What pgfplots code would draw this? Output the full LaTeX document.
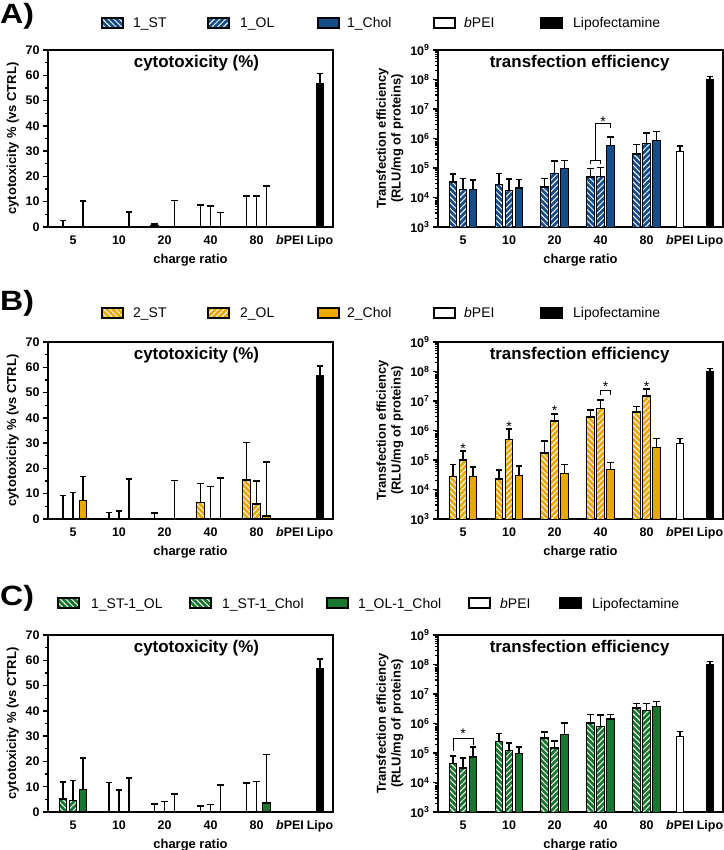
\documentclass[border=0pt]{standalone}
\usepackage{fontspec}
\setmainfont{Liberation Sans}
\usepackage{pgfplots}
\pgfplotsset{compat=1.18}
\usetikzlibrary{patterns.meta}

\definecolor{cblue}{RGB}{22,76,136}
\definecolor{corange}{RGB}{232,168,0}
\definecolor{cgreen}{RGB}{24,118,46}

\tikzset{
  stpat/.style={draw=black, preaction={fill=#1}, pattern={Lines[angle=-45,distance=4bp,line width=0.95bp]}, pattern color=white},
  olpat/.style={draw=black, preaction={fill=#1}, pattern={Lines[angle=45,distance=4bp,line width=0.95bp]}, pattern color=white},
  solidpat/.style={draw=black, fill=#1},
  legbox/.style={line width=1.5bp},
  legtext/.style={anchor=base west, inner sep=0pt, font=\fontsize{14}{16}\selectfont},
  sigstar/.style={anchor=base, inner sep=0pt, yshift=-8bp, font=\fontsize{14}{16}\selectfont},
  ttl/.style={anchor=north, inner sep=0pt, yshift=-5bp, font=\bfseries\fontsize{17}{20}\selectfont},
  sig/.style={line width=1bp, black},
  plab/.style={anchor=west, inner sep=0pt, xscale=1.15, font=\bfseries\fontsize{28}{32}\selectfont},
}

\pgfplotsset{
  myCommon/.style={
    scale only axis, width=285bp, height=177bp,
    xmin=0, xmax=285,
    axis line style={line width=2bp},
    xtick={25,71,116.5,162.5,208.5,242,272},
    xticklabels={5,10,20,40,80,\textit{b}PEI,Lipo},
    x tick style={draw=none},
    ytick pos=left,
    tick align=outside,
    major tick length=5bp, minor tick length=3bp,
    major tick style={line width=1.5bp, black},
    minor tick style={line width=1.2bp, black},
    tick label style={font=\bfseries\fontsize{12.5}{14}\selectfont},
    label style={font=\bfseries\fontsize{13}{15}\selectfont},
    xlabel={charge ratio},
    error bars/y dir=plus, error bars/y explicit,
    error bars/error bar style={line width=1.3bp, black},
    error bars/error mark options={rotate=90, line width=1.6bp, mark size=3.2bp, black},
  },
  myCyto/.style={myCommon, ymin=0, ymax=70, ytick={0,10,20,30,40,50,60,70},
    yticklabels={0,10,20,30,40,50,60,70}, minor y tick num=1,
    ylabel={cytotoxicity \% (vs CTRL)}},
  myTran/.style={myCommon, ymin=1e3, ymax=1e9,
    ytick={1e3,1e4,1e5,1e6,1e7,1e8,1e9},
    yticklabels={10\textsuperscript{3},10\textsuperscript{4},10\textsuperscript{5},10\textsuperscript{6},10\textsuperscript{7},10\textsuperscript{8},10\textsuperscript{9}},
    ylabel={Transfection efficiency\\(RLU/mg of proteins)},
    ylabel style={align=center}},
  myBar/.style={ybar, bar width=7.5, bar shift=0pt, line width=1.4bp},
}

\begin{document}
\begin{tikzpicture}
\useasboundingbox (0bp,0bp) rectangle (724bp,850bp);

\begin{scope}[x=1bp,y=1bp]
% Row A legend
\node[plab] at (0,834) {A)};
\draw[legbox, stpat=cblue] (102,822) rectangle ++(21,10); \node[legtext] at (133,822) {1\_ST};
\draw[legbox, olpat=cblue] (208,822) rectangle ++(21,10); \node[legtext] at (240,822) {1\_OL};
\draw[legbox, solidpat=cblue] (318,822) rectangle ++(21,10); \node[legtext] at (347,822) {1\_Chol};
\draw[legbox, solidpat=white] (434,822) rectangle ++(21,10); \node[legtext] at (464,822) {\textit{b}PEI};
\draw[legbox, solidpat=black] (541,822) rectangle ++(21,10); \node[legtext] at (573,822) {Lipofectamine};
% Row B legend
\node[plab] at (0,547) {B)};
\draw[legbox, stpat=corange] (102,532) rectangle ++(21,10); \node[legtext] at (133,532) {2\_ST};
\draw[legbox, olpat=corange] (208,532) rectangle ++(21,10); \node[legtext] at (240,532) {2\_OL};
\draw[legbox, solidpat=corange] (318,532) rectangle ++(21,10); \node[legtext] at (347,532) {2\_Chol};
\draw[legbox, solidpat=white] (434,532) rectangle ++(21,10); \node[legtext] at (464,532) {\textit{b}PEI};
\draw[legbox, solidpat=black] (541,532) rectangle ++(21,10); \node[legtext] at (573,532) {Lipofectamine};
% Row C legend
\node[plab] at (0,252) {C)};
\draw[legbox, stpat=cgreen] (58,242) rectangle ++(21,10); \node[legtext] at (91,242) {1\_ST-1\_OL};
\draw[legbox, stpat=cgreen] (190,242) rectangle ++(21,10); \node[legtext] at (222,242) {1\_ST-1\_Chol};
\draw[legbox, solidpat=cgreen] (327,242) rectangle ++(21,10); \node[legtext] at (358,242) {1\_OL-1\_Chol};
\draw[legbox, solidpat=white] (469,242) rectangle ++(21,10); \node[legtext] at (500,242) {\textit{b}PEI};
\draw[legbox, solidpat=black] (560,242) rectangle ++(21,10); \node[legtext] at (592,242) {Lipofectamine};
\end{scope}

% ---------------- Row A ----------------
\begin{axis}[myCyto, at={(48bp,623bp)}, anchor=south west]
\addplot[myBar, stpat=cblue] coordinates {(15,0) +- (0,2.6) (106.5,0.7) +- (0,0.4) (152.5,0) +- (0,8.6) (198.5,0) +- (0,12.2)};
\addplot[myBar, olpat=cblue] coordinates {(162.5,0) +- (0,8.2) (208.5,0) +- (0,12.2)};
\addplot[myBar, solidpat=cblue] coordinates {(35,0) +- (0,10.2) (81,0) +- (0,5.9) (126.5,0) +- (0,10.5) (172.5,0) +- (0,5.7) (218.5,0) +- (0,16.1)};
\addplot[myBar, solidpat=black] coordinates {(272,56.5) +- (0,4.2)};
\node[ttl] at (rel axis cs:0.521,1) {cytotoxicity (\%)};
\end{axis}

\begin{semilogyaxis}[myTran, at={(438bp,623bp)}, anchor=south west]
\addplot[myBar, stpat=cblue] coordinates {(15,3.4e4) +- (0,2.8e4) (61,2.8e4) +- (0,3.7e4) (106.5,2.3e4) +- (0,2.1e4) (152.5,4.9e4) +- (0,4.7e4) (198.5,3e5) +- (0,3.3e5)};
\addplot[myBar, olpat=cblue] coordinates {(25,1.9e4) +- (0,2.5e4) (71,1.7e4) +- (0,2.6e4) (116.5,6.5e4) +- (0,1.05e5) (162.5,5.1e4) +- (0,5.2e4) (208.5,6.8e5) +- (0,8.2e5)};
\addplot[myBar, solidpat=cblue] coordinates {(35,1.9e4) +- (0,2.0e4) (81,2.1e4) +- (0,2.0e4) (126.5,9.6e4) +- (0,8.4e4) (172.5,5.9e5) +- (0,5.6e5) (218.5,8.7e5) +- (0,8.3e5)};
\addplot[myBar, solidpat=white] coordinates {(242,3.7e5) +- (0,1.8e5)};
\addplot[myBar, solidpat=black] coordinates {(272,1e8) +- (0,2.5e7)};
\draw[sig] (axis cs:152.5,1.4e5) -- (axis cs:152.5,1.8e5) -- (axis cs:162.5,1.8e5) -- (axis cs:162.5,1.4e5);
\draw[sig] (axis cs:157.5,1.8e5) -- (axis cs:157.5,3.2e6) -- (axis cs:172.5,3.2e6) -- (axis cs:172.5,2.3e6);
\node[sigstar] at (axis cs:165,4.8e6) {*};
\node[ttl] at (rel axis cs:0.497,1) {transfection efficiency};
\end{semilogyaxis}

% ---------------- Row B ----------------
\begin{axis}[myCyto, at={(48bp,331bp)}, anchor=south west]
\addplot[myBar, stpat=corange] coordinates {(15,0) +- (0,9.3) (61,0) +- (0,2.6) (106.5,0) +- (0,2.3) (152.5,6.5) +- (0,7.5) (198.5,15.4) +- (0,14.8)};
\addplot[myBar, olpat=corange] coordinates {(25,0) +- (0,10.4) (71,0) +- (0,3.1) (162.5,0) +- (0,12.9) (208.5,5.9) +- (0,9.1)};
\addplot[myBar, solidpat=corange] coordinates {(35,7.2) +- (0,9.6) (81,0) +- (0,15.8) (126.5,0) +- (0,15.3) (172.5,0) +- (0,16.3) (218.5,1.2) +- (0,21.4)};
\addplot[myBar, solidpat=black] coordinates {(272,56.5) +- (0,4.0)};
\node[ttl] at (rel axis cs:0.521,1) {cytotoxicity (\%)};
\end{axis}

\begin{semilogyaxis}[myTran, at={(438bp,331bp)}, anchor=south west]
\addplot[myBar, stpat=corange] coordinates {(15,2.7e4) +- (0,4.3e4) (61,2.3e4) +- (0,2.2e4) (106.5,1.7e5) +- (0,2.8e5) (152.5,2.9e6) +- (0,2.1e6) (198.5,4.3e6) +- (0,2.3e6)};
\addplot[myBar, olpat=corange] coordinates {(25,1e5) +- (0,1e5) (71,5e5) +- (0,6e5) (116.5,2.1e6) +- (0,1.5e6) (162.5,5.6e6) +- (0,5.1e6) (208.5,1.5e7) +- (0,1.1e7)};
\addplot[myBar, solidpat=corange] coordinates {(35,2.7e4) +- (0,3.1e4) (81,3e4) +- (0,3.3e4) (126.5,3.5e4) +- (0,3.5e4) (172.5,4.8e4) +- (0,3.3e4) (218.5,2.6e5) +- (0,2.7e5)};
\addplot[myBar, solidpat=white] coordinates {(242,3.6e5) +- (0,1.7e5)};
\addplot[myBar, solidpat=black] coordinates {(272,1e8) +- (0,2.5e7)};
\node[sigstar] at (axis cs:25,3.2e5) {*};
\node[sigstar] at (axis cs:71,1.7e6) {*};
\node[sigstar] at (axis cs:116.5,6e6) {*};
\node[sigstar] at (axis cs:208.5,4e7) {*};
\draw[sig] (axis cs:162.5,1.6e7) -- (axis cs:162.5,2.2e7) -- (axis cs:172.5,2.2e7) -- (axis cs:172.5,1.6e7);
\node[sigstar] at (axis cs:167.5,3.8e7) {*};
\node[ttl] at (rel axis cs:0.497,1) {transfection efficiency};
\end{semilogyaxis}

% ---------------- Row C ----------------
\begin{axis}[myCyto, at={(48bp,38bp)}, anchor=south west]
\addplot[myBar, stpat=cgreen] coordinates {(15,5.2) +- (0,6.6) (61,0) +- (0,11.6) (106.5,0) +- (0,3.2) (152.5,0) +- (0,2.4) (198.5,0) +- (0,11.4)};
\addplot[myBar, olpat=cgreen] coordinates {(25,4.5) +- (0,7.9) (71,0.2) +- (0,8.6) (116.5,0) +- (0,4.2) (162.5,0) +- (0,3.0) (208.5,0) +- (0,12.0)};
\addplot[myBar, solidpat=cgreen] coordinates {(35,8.9) +- (0,12.4) (81,0) +- (0,13.4) (126.5,0) +- (0,7.1) (172.5,0) +- (0,10.7) (218.5,3.6) +- (0,19.2)};
\addplot[myBar, solidpat=black] coordinates {(272,56.5) +- (0,4.0)};
\node[ttl] at (rel axis cs:0.521,1) {cytotoxicity (\%)};
\end{axis}

\begin{semilogyaxis}[myTran, at={(438bp,38bp)}, anchor=south west]
\addplot[myBar, stpat=cgreen] coordinates {(15,4.4e4) +- (0,3.6e4) (61,2.4e5) +- (0,2.2e5) (106.5,3.2e5) +- (0,2e5) (152.5,1.05e6) +- (0,9.5e5) (198.5,3.4e6) +- (0,1.4e6)};
\addplot[myBar, olpat=cgreen] coordinates {(25,3.1e4) +- (0,3.7e4) (71,1.2e5) +- (0,1e5) (116.5,1.5e5) +- (0,1.1e5) (162.5,7.8e5) +- (0,1.12e6) (208.5,2.7e6) +- (0,2.1e6)};
\addplot[myBar, solidpat=cgreen] coordinates {(35,7.4e4) +- (0,8.6e4) (81,9.6e4) +- (0,6.4e4) (126.5,4.3e5) +- (0,6.2e5) (172.5,1.4e6) +- (0,6e5) (218.5,3.7e6) +- (0,1.8e6)};
\addplot[myBar, solidpat=white] coordinates {(242,3.6e5) +- (0,1.7e5)};
\addplot[myBar, solidpat=black] coordinates {(272,1e8) +- (0,2.5e7)};
\draw[sig] (axis cs:15,1.2e5) -- (axis cs:15,3.2e5) -- (axis cs:35,3.2e5) -- (axis cs:35,1.9e5);
\node[sigstar] at (axis cs:25,5.9e5) {*};
\node[ttl] at (rel axis cs:0.497,1) {transfection efficiency};
\end{semilogyaxis}
\end{tikzpicture}
\end{document}
